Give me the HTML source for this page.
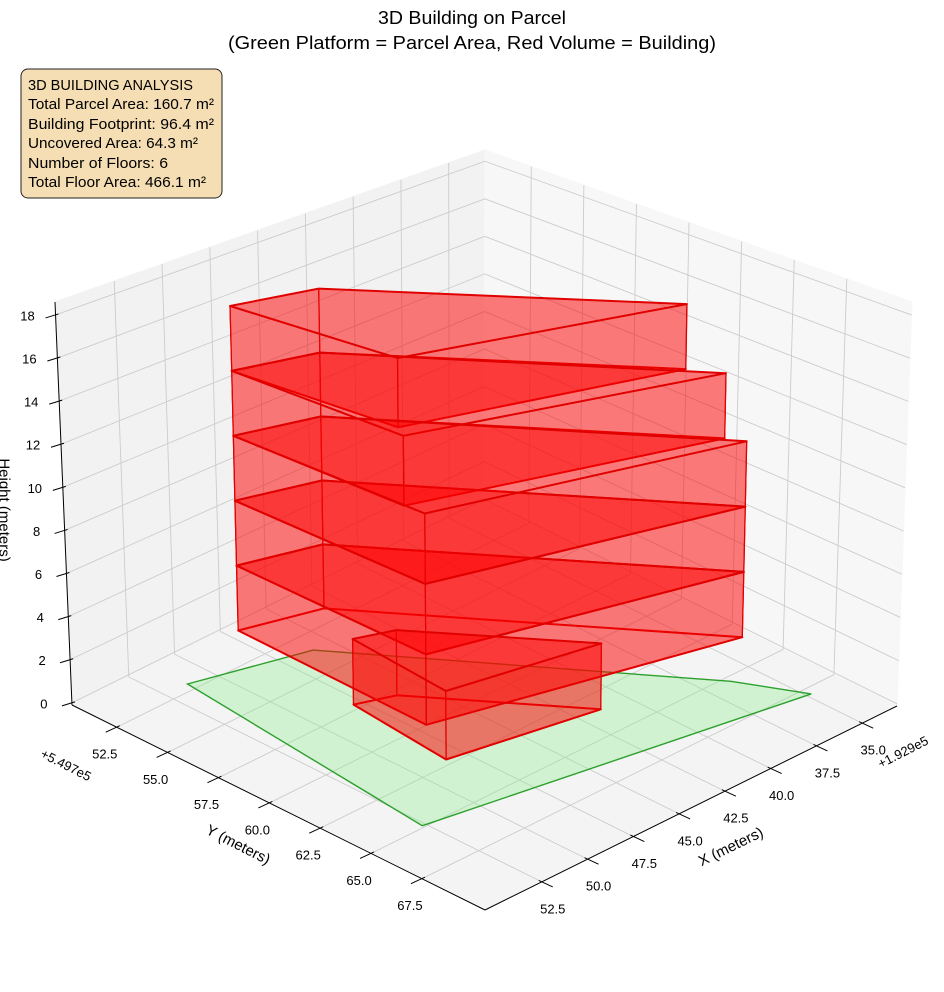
<!DOCTYPE html>
<html><head><meta charset="utf-8"><style>
html,body{margin:0;padding:0;background:#fff;}
svg{display:block;font-family:"Liberation Sans Narrow","Liberation Sans",sans-serif;}
</style></head><body>
<svg id="chart" width="944" height="992" viewBox="0 0 944 992" xmlns="http://www.w3.org/2000/svg">
<text x="472" y="24" font-size="18" text-anchor="middle" textLength="188" lengthAdjust="spacingAndGlyphs">3D Building on Parcel</text>
<text x="472" y="49" font-size="18" text-anchor="middle" textLength="488" lengthAdjust="spacingAndGlyphs">(Green Platform = Parcel Area, Red Volume = Building)</text>
<g id="plot"></g>
<g>
<rect x="21" y="69" width="201" height="129" rx="7" fill="#f5deb3" stroke="#222" stroke-width="1"/>
<text x="28" y="90" font-size="15" textLength="165" lengthAdjust="spacingAndGlyphs">3D BUILDING ANALYSIS</text>
<text x="28" y="109" font-size="15" textLength="186" lengthAdjust="spacingAndGlyphs">Total Parcel Area: 160.7 m²</text>
<text x="28" y="129" font-size="15" textLength="186" lengthAdjust="spacingAndGlyphs">Building Footprint: 96.4 m²</text>
<text x="28" y="148" font-size="15" textLength="170" lengthAdjust="spacingAndGlyphs">Uncovered Area: 64.3 m²</text>
<text x="28" y="168" font-size="15" textLength="140" lengthAdjust="spacingAndGlyphs">Number of Floors: 6</text>
<text x="28" y="187" font-size="15" textLength="178" lengthAdjust="spacingAndGlyphs">Total Floor Area: 466.1 m²</text>
</g>
</svg>
<script>
// ---- data ----
const xTicks = [35.0, 37.5, 40.0, 42.5, 45.0, 47.5, 50.0, 52.5];
const yTicks = [52.5, 55.0, 57.5, 60.0, 62.5, 65.0, 67.5];
const zTicks = [0, 2, 4, 6, 8, 10, 12, 14, 16, 18];
const xTickLabels = ["35.0","37.5","40.0","42.5","45.0","47.5","50.0","52.5"];
const yTickLabels = ["52.5","55.0","57.5","60.0","62.5","65.0","67.5"];
const parcelX = [51.4, 46.1, 36.4, 34.9, 52.8];
const parcelY = [52.2, 53.6, 65.4, 68.0, 65.0];
const floorBase = [0, 3, 6, 9, 12, 15];
const floorTop = [3, 6, 9, 12, 15, 18];
const floorX = [
  [48.0, 46.3, 41.5, 48.5],
  [50.6, 47.0, 37.3, 51.0],
  [50.6, 47.0, 37.3, 51.0],
  [50.6, 47.0, 37.3, 51.0],
  [50.6, 47.0, 37.7, 51.0],
  [50.6, 47.0, 38.5, 50.5]
];
const floorY = [
  [57.3, 57.9, 63.6, 62.3],
  [54.05, 55.0, 66.7, 63.6],
  [54.05, 55.0, 66.7, 63.6],
  [54.05, 55.0, 66.7, 63.6],
  [54.05, 55.0, 66.0, 62.6],
  [54.05, 55.0, 64.8, 61.9]
];

// ---- axes / projection ----
const XMIN=33.1, XMAX=55.6, YMIN=50.3, YMAX=70.6, ZMIN=-0.1, ZMAX=18.6;
const F00=[484,501], F10=[72,705], F01=[897,706], F11=[485,910];
const T00=[485,150], T10=[55,302], T01=[912,302], T11=[484,431];
function bil(a,b,c,d,u,v,i){return a[i]*(1-u)*(1-v)+b[i]*u*(1-v)+c[i]*(1-u)*v+d[i]*u*v;}
function proj(x,y,z){
  const u=(x-XMIN)/(XMAX-XMIN), v=(y-YMIN)/(YMAX-YMIN), w=(z-ZMIN)/(ZMAX-ZMIN);
  const fx=bil(F00,F10,F01,F11,u,v,0), fy=bil(F00,F10,F01,F11,u,v,1);
  const tx=bil(T00,T10,T01,T11,u,v,0), ty=bil(T00,T10,T01,T11,u,v,1);
  return [fx*(1-w)+tx*w, fy*(1-w)+ty*w];
}
function depth(x,y){return (x-XMIN)/(XMAX-XMIN)+(y-YMIN)/(YMAX-YMIN);}
const NS="http://www.w3.org/2000/svg";
const plot=document.getElementById('plot');
function el(tag,attrs,parent){const e=document.createElementNS(NS,tag);for(const k in attrs)e.setAttribute(k,attrs[k]);(parent||plot).appendChild(e);return e;}
function pts(arr){return arr.map(p=>p[0].toFixed(1)+','+p[1].toFixed(1)).join(' ');}
function line(a,b,stroke,sw,name){const e=el('line',{x1:a[0],y1:a[1],x2:b[0],y2:b[1],stroke:stroke,'stroke-width':sw});

return e;}

// panes
const paneLeft=el('polygon',{points:pts([proj(XMIN,YMIN,ZMIN),proj(XMAX,YMIN,ZMIN),proj(XMAX,YMIN,ZMAX),proj(XMIN,YMIN,ZMAX)]),fill:'#f2f2f2',stroke:'#f2f2f2'});


const paneRight=el('polygon',{points:pts([proj(XMIN,YMIN,ZMIN),proj(XMIN,YMAX,ZMIN),proj(XMIN,YMAX,ZMAX),proj(XMIN,YMIN,ZMAX)]),fill:'#f7f7f7',stroke:'#f7f7f7'});


const paneFloor=el('polygon',{points:pts([proj(XMIN,YMIN,ZMIN),proj(XMAX,YMIN,ZMIN),proj(XMAX,YMAX,ZMIN),proj(XMIN,YMAX,ZMIN)]),fill:'#f4f4f4',stroke:'#f4f4f4'});



const GC='#cccccc', GW=0.9;
xTicks.forEach(x=>{
  line(proj(x,YMIN,ZMIN),proj(x,YMAX,ZMIN),GC,GW,'grid-x-floor');
  line(proj(x,YMIN,ZMIN),proj(x,YMIN,ZMAX),GC,GW,'grid-x-wall');
});
yTicks.forEach(y=>{
  line(proj(XMIN,y,ZMIN),proj(XMAX,y,ZMIN),GC,GW,'grid-y-floor');
  line(proj(XMIN,y,ZMIN),proj(XMIN,y,ZMAX),GC,GW,'grid-y-wall');
});
zTicks.forEach(z=>{
  line(proj(XMIN,YMIN,z),proj(XMAX,YMIN,z),GC,GW,'grid-z-left');
  line(proj(XMIN,YMIN,z),proj(XMIN,YMAX,z),GC,GW,'grid-z-right');
});

// axis lines
line(proj(XMAX,YMIN,ZMIN),proj(XMAX,YMAX,ZMIN),'#000',1,'y-axis-line');
line(proj(XMIN,YMAX,ZMIN),proj(XMAX,YMAX,ZMIN),'#000',1,'x-axis-line');
line(proj(XMAX,YMIN,ZMIN),proj(XMAX,YMIN,ZMAX),'#000',1,'z-axis-line');

function txt(x,y,s,size,name,extra){const t=el('text',Object.assign({x:x,y:y,'font-size':size,'text-anchor':'middle','dominant-baseline':'central'},extra||{}));t.textContent=s;

return t;}

yTicks.forEach((y,i)=>{
  const p=proj(XMAX,y,ZMIN);
  line([p[0]+3,p[1]-1.5],[p[0]-11,p[1]+5],'#000',1,'y-tick');
  txt(p[0]-12,p[1]+27,yTickLabels[i],13,'y-tick-label');
});
xTicks.forEach((x,i)=>{
  const p=proj(x,YMAX,ZMIN);
  line([p[0]-3,p[1]-1.5],[p[0]+11,p[1]+5],'#000',1,'x-tick');
  txt(p[0]+11,p[1]+27,xTickLabels[i],13,'x-tick-label');
});
zTicks.forEach(z=>{
  const p=proj(XMAX,YMIN,z);
  line([p[0]+3,p[1]-1],[p[0]-10,p[1]+3],'#000',1,'z-tick');
  txt(p[0]-28,p[1]+1,String(z),13,'z-tick-label');
});
txt(66,765,'+5.497e5',13,'y-offset-label',{transform:'rotate(27 66 765)'});
txt(903,752,'+1.929e5',13,'x-offset-label',{transform:'rotate(-27 903 752)'});
txt(238,845,'Y (meters)',15,'y-axis-title',{transform:'rotate(27 238 845)'});
txt(731,847,'X (meters)',15,'x-axis-title',{transform:'rotate(-26 731 847)'});
txt(4,510,'Height (meters)',15,'z-axis-title',{transform:'rotate(90 4 510)'});

// parcel
const parcelPts=parcelX.map((x,i)=>proj(x,parcelY[i],0));
const parcel=el('polygon',{points:pts(parcelPts),fill:'#90ee90','fill-opacity':0.35,stroke:'#2ca02c','stroke-width':1.4});



// building faces
const faces=[];
floorBase.forEach((z0,f)=>{
  const z1=floorTop[f], xs=floorX[f], ys=floorY[f], n=xs.length;
  const dAvg=xs.reduce((s,x,i)=>s+depth(x,ys[i]),0)/n;
  faces.push({pts:xs.map((x,i)=>proj(x,ys[i],z0)),d:dAvg-0.5+z0*0.001,name:'floor-'+(f+1)+'-bottom',w:2});
  for(let i=0;i<n;i++){
    const j=(i+1)%n;
    faces.push({pts:[proj(xs[i],ys[i],z0),proj(xs[j],ys[j],z0),proj(xs[j],ys[j],z1),proj(xs[i],ys[i],z1)],
      d:(depth(xs[i],ys[i])+depth(xs[j],ys[j]))/2+z0*0.001,name:'floor-'+(f+1)+'-wall',w:1.2});
  }
  faces.push({pts:xs.map((x,i)=>proj(x,ys[i],z1)),d:dAvg+0.3+z1*0.001,name:'floor-'+(f+1)+'-top',w:2});
});
faces.sort((a,b)=>a.d-b.d);
faces.forEach(fc=>{
  const p=el('polygon',{points:pts(fc.pts),fill:'#ff0000','fill-opacity':0.3,stroke:'#e00000','stroke-width':fc.w,'stroke-linejoin':'round'});
  
  
});
</script>
</body></html>
